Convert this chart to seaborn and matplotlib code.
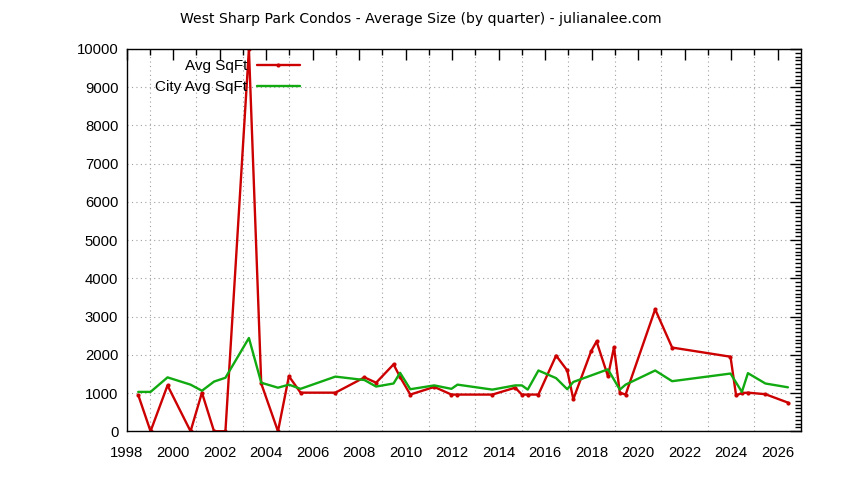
import pandas as pd
import seaborn as sns
import matplotlib
matplotlib.use('Agg')
import matplotlib.pyplot as plt
from matplotlib.ticker import MultipleLocator, FixedLocator

# neighbourhood series (red)
avg_dates = [1998.50, 1999.03, 1999.76, 2000.75, 2001.24, 2001.76, 2002.25, 2003.26,
             2003.79, 2004.51, 2004.98, 2005.48, 2006.98, 2008.23, 2008.73, 2009.48,
             2009.76, 2010.20, 2011.23, 2011.97, 2012.23, 2013.73, 2014.71, 2015.00,
             2015.25, 2015.71, 2016.47, 2016.95, 2017.21, 2017.98, 2018.21, 2018.70,
             2018.96, 2019.21, 2019.46, 2020.73, 2021.46, 2023.97, 2024.21, 2024.46,
             2024.72, 2025.47, 2026.44]
avg_sqft = [950, 0, 1200, 0, 1010, 0, 0, 10000,
            1250, 0, 1440, 1010, 1010, 1410, 1270, 1750,
            1420, 960, 1160, 960, 960, 960, 1140, 960,
            960, 960, 1980, 1590, 840, 2100, 2350, 1440,
            2200, 1010, 960, 3190, 2190, 1950, 940, 1000,
            1010, 970, 750]

# city series (green)
city_dates = [1998.50, 1999.03, 1999.76, 2000.75, 2001.24, 2001.76, 2002.25, 2003.26,
              2003.79, 2004.51, 2004.98, 2005.48, 2006.98, 2008.23, 2008.73, 2009.48,
              2009.76, 2010.20, 2011.23, 2011.97, 2012.23, 2013.73, 2014.71, 2015.00,
              2015.25, 2015.71, 2016.47, 2016.95, 2017.21, 2018.70, 2019.21, 2019.46,
              2020.73, 2021.46, 2023.97, 2024.46, 2024.72, 2025.47, 2026.44]
city_sqft = [1030, 1030, 1410, 1220, 1060, 1300, 1400, 2440,
             1270, 1140, 1220, 1110, 1430, 1340, 1170, 1250,
             1530, 1100, 1200, 1110, 1220, 1090, 1200, 1200,
             1090, 1590, 1390, 1100, 1290, 1620, 1090, 1220,
             1590, 1310, 1510, 1030, 1520, 1250, 1150]

x_ticks = list(range(1998, 2027, 2))
x_minor = list(range(1999, 2027, 2))

sns.set_style("white")
plt.rcParams['font.family'] = ['Liberation Sans', 'DejaVu Sans']
plt.rcParams['text.color'] = 'black'
plt.rcParams['xtick.color'] = 'black'
plt.rcParams['ytick.color'] = 'black'

df_avg = pd.DataFrame({'year': avg_dates, 'sqft': avg_sqft})
df_city = pd.DataFrame({'year': city_dates, 'sqft': city_sqft})

fig = plt.figure(figsize=(8.44, 4.8), dpi=100)
ax = fig.add_axes([0.150, 0.1015, 0.799, 0.7965])

sns.lineplot(x='year', y='sqft', data=df_avg, ax=ax, color='#cc0000', linewidth=1.7,
             marker='o', markersize=3, markeredgewidth=0, label='Avg SqFt', estimator=None, sort=False)
sns.lineplot(x='year', y='sqft', data=df_city, ax=ax, color='#11aa11', linewidth=1.7,
             label='City Avg SqFt', estimator=None, sort=False)

ax.set_xlim(1998, 2027)
ax.set_ylim(0, 10000)
ax.set_xticks(x_ticks)
ax.xaxis.set_minor_locator(FixedLocator(x_minor))
ax.yaxis.set_major_locator(MultipleLocator(1000))
ax.yaxis.set_minor_locator(MultipleLocator(100))
ax.set_xlabel('')
ax.set_ylabel('')

ax.tick_params(which='major', direction='in', length=8, width=1, top=True, right=True,
               labelsize=10.7, labelcolor='black')
ax.tick_params(axis='x', which='major', pad=10.5)
ax.tick_params(axis='y', which='major', pad=6)
ax.tick_params(which='minor', direction='in', length=4, width=1, top=True, right=True)
for s in ax.spines.values():
    s.set_color('black')
    s.set_linewidth(1)

ax.grid(False)
ax.grid(which='minor', axis='x', color='#a0a0a0', linestyle=(0, (1, 3)), linewidth=0.8)
ax.grid(which='major', axis='y', color='#a0a0a0', linestyle=(0, (1, 3)), linewidth=0.8)
ax.set_axisbelow(True)

leg = ax.legend(loc='upper right', bbox_to_anchor=(0.266, 0.989), frameon=False,
                markerfirst=False, handlelength=2.8, handletextpad=0.65,
                labelspacing=0.45, borderaxespad=0, fontsize=11)

fig.text(0.499, 0.96, 'West Sharp Park Condos - Average Size (by quarter) - julianalee.com',
         ha='center', va='center', fontsize=10.1, color='black', family='DejaVu Sans')

fig.savefig('out.png', dpi=100)
